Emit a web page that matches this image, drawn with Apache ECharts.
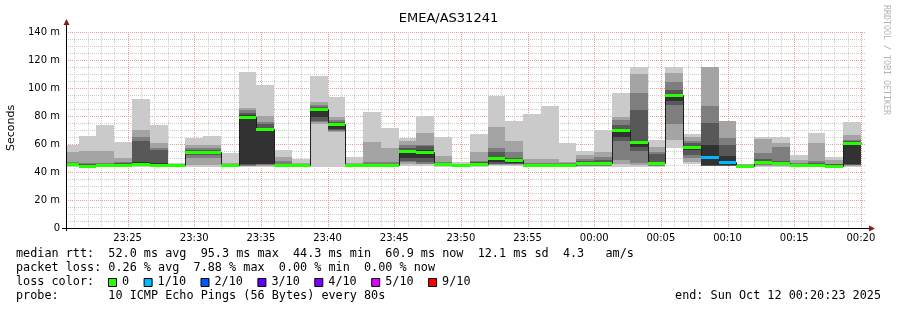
<!DOCTYPE html>
<html><head><meta charset="utf-8">
<script src="https://cdn.jsdelivr.net/npm/echarts@6/dist/echarts.min.js"></script>
<style>html,body{margin:0;padding:0;background:#fff}#c{width:897px;height:310px}</style>
</head><body><div id="c"></div>
<script>
// ---------- data ----------
const title = 'EMEA/AS31241';
const graphStart = '23:20:23';
const graphEnd = '00:20:23';
const step = 80; // seconds per probe round
const slotStart = ['23:20:00','23:21:20','23:22:40','23:24:00','23:25:20','23:26:40','23:28:00','23:29:20','23:30:40','23:32:00',
 '23:33:20','23:34:40','23:36:00','23:37:20','23:38:40','23:40:00','23:41:20','23:42:40','23:44:00','23:45:20',
 '23:46:40','23:48:00','23:49:20','23:50:40','23:52:00','23:53:20','23:54:40','23:56:00','23:57:20','23:58:40',
 '00:00:00','00:01:20','00:02:40','00:04:00','00:05:20','00:06:40','00:08:00','00:09:20','00:10:40','00:12:00',
 '00:13:20','00:14:40','00:16:00','00:17:20','00:18:40'];
// sorted ping round trip times (ms), ping1 = fastest ... ping10 = slowest
const ping1 = [43.8,43.7,43.8,43.8,43.8,43.8,43.8,43.5,43.8,43.8, 43.8,43.8,43.8,43.8,43.5,43.8,43.8,43.8,43.8,44, 44,43.8,43.8,43.8,44,44,43.8,43.8,43.8,43.8, 43.8,43.8,43.8,43.8,57.5,46,43.8,43.8,43.8,43.8, 43.8,43.8,43.8,43.6,43.8];
const ping2 = [44.2,43.9,44.2,44.2,44.3,44.2,44,45,45,44, 44.3,44.5,44.2,44,74.5,68.3,44,44,44,45.5, 45.5,44.2,44,44.3,45,45,44,44,44,44.2, 44.2,46,45,44.3,63,47.5,44.1,44.2,43.9,44.5, 44.5,44,44,43.8,44.4];
const ping3 = [44.5,44,44.4,44.4,44.6,44.4,44.2,50,50,44.2, 44.6,45,44.4,44.2,75.5,69,44.2,44.2,44.2,47, 46,44.4,44.2,44.6,45.5,45.5,44.2,44.2,44.2,44.4, 44.5,48.6,46.2,44.5,74.3,50,44.3,44.4,44,45, 44.9,44.2,44.2,43.9,44.7];
const ping4 = [44.8,44.1,44.6,44.6,45,44.6,44.4,52,52,44.4, 45,45.5,44.6,44.4,76.5,70,44.4,44.4,44.4,48, 47,44.7,44.4,45,46,46,44.4,44.4,44.4,44.7, 44.8,62,55,44.8,88,52,44.5,44.6,44.1,45.5, 45.3,44.4,44.4,44,45];
const ping5 = [45,44.3,44.8,44.8,45.5,44.9,44.6,53.5,53.5,44.6, 45.5,46,44.8,44.6,79,70.5,44.6,44.6,44.6,50, 49.8,45,44.6,45.3,47,46.5,44.6,44.6,44.6,45, 45.2,65.2,58,45,91,56,45,45,44.3,46, 45.8,44.6,44.6,44.1,45.5];
const ping6 = [46,45,45.5,45.6,47,46.5,45.1,55,55,45.2, 80.5,71.5,45.5,45.2,85.5,74.8,45.2,45.5,45.5,56, 55.5,46,45.2,46.2,51,49,45.5,45.5,45.4,47, 47.3,71,62.5,47,96,58.8,59.3,51.5,44.8,47.8, 47,45.3,45.5,45,61.5];
const ping7 = [46.5,45.8,46,46.2,62.5,56,45.3,55.5,56,45.5, 82.5,74,46,45.5,86.5,75.5,45.5,46,46,57.5, 58.3,46.5,45.5,47,54,50,46,46,45.8,47.8, 48.5,73.5,84.3,53,98.6,60.5,75,59,45,49, 48,45.8,46.5,45.5,62];
const ping8 = [47,46.5,46.5,47.4,65,57,45.5,57,57,46, 84.3,76,48,46,88,77,46,47,47,59.5, 59.5,47.5,45.8,48,57,54,46.5,46.5,46.3,49, 51,77.5,96.7,54,104.5,62,87.2,64.5,45.2,53.4, 57.6,46.5,48,46,63];
const ping9 = [54.5,55,55,50.2,70,60.7,45.8,59.5,59,46.5, 86,79.8,50.5,46.5,90.2,79,46.5,61.3,57.1,62.3, 68.1,51.5,46,54.5,72.4,62.1,49.4,49.4,47.2,52.3, 54.3,79.5,109.8,58,110.8,64.9,115,76.5,45.5,63.6, 61,48.3,60.6,48.3,66.4];
const ping10 = [59,65.7,73.6,61.2,92,73.5,46.4,64.3,65.7,53.8, 111.5,102,56,49.4,108.6,93.5,50.7,82.7,71.5,64.6, 80,64.7,47.4,67.1,94.4,76.2,81.3,87.1,60.6,55, 70,96.5,115,63,115,67,null,null,46,64.8, 64.8,52.1,67.8,50.7,75.7];
const median = [45.5,44.5,45,45,45.6,45,44.8,54.4,54.4,44.8, 79.5,70.6,45,44.8,85,74.3,44.8,44.8,44.8,55.2, 54.5,45.4,44.8,45.7,50.2,48.4,44.8,44.8,44.8,46.2, 46.6,70.2,61.5,46.1,95.2,58.1,50.7,47.2,44.5,47.2, 46.5,44.8,44.8,44.3,60.9];
const lost = [0,0,0,0,0,0,0,0,0,0, 0,0,0,0,0,0,0,0,0,0, 0,0,0,0,0,0,0,0,0,0, 0,0,0,0,0,0,1,1,0,0, 0,0,0,0,0];
const xTickLabels = ['23:25','23:30','23:35','23:40','23:45','23:50','23:55','00:00','00:05','00:10','00:15','00:20'];
const yMax = 140, yStep = 20;
const lossLabels = ['0','1/10','2/10','3/10','4/10','5/10','9/10'];
const lossColors = ['#26ff00','#00b8ff','#0059ff','#5e00ff','#7e00ff','#dd00ff','#ff0000'];
const statLine1 = 'median rtt:  52.0 ms avg  95.3 ms max  44.3 ms min  60.9 ms now  12.1 ms sd  4.3   am/s';
const statLine2 = 'packet loss: 0.26 % avg  7.88 % max  0.00 % min  0.00 % now';
const statLine3 = 'loss color:';
const statLine4 = 'probe:       10 ICMP Echo Pings (56 Bytes) every 80s';
const endText = 'end: Sun Oct 12 00:20:23 2025';

// ---------- helpers ----------
const toSec = s => { const p = s.split(':').map(Number); let t = p[0]*3600 + p[1]*60 + (p[2]||0); if (p[0] >= 12) t -= 86400; return t; };
const fmtHM = v => { let t = ((v % 86400) + 86400) % 86400; const h = Math.floor(t/3600), m = Math.floor((t%3600)/60); return String(h).padStart(2,'0') + ':' + String(m).padStart(2,'0'); };
const xMin = toSec(graphStart), xMax = toSec(graphEnd);
const pings = [ping1,ping2,ping3,ping4,ping5,ping6,ping7,ping8,ping9,ping10];
const shades = ['#cacaca','#a4a4a4','#7e7e7e','#585858','#323232'];
const lossColorOf = n => n >= 9 ? lossColors[6] : n >= 5 ? lossColors[5] : lossColors[n];

const G = {left: 66, right: 31, top: 32, bottom: 82};
const W = 897, H = 310;
const plotR = W - G.right, plotB = H - G.bottom;

const minuteLines = [];
for (let v = Math.ceil(xMin/60)*60; v <= xMax; v += 60) minuteLines.push([v]);

const slotData = slotStart.map((s, i) => [toSec(s) + step/2, median[i], i]);

function slotX(i, api) {
  const s = toSec(slotStart[i]);
  const a = Math.max(s, xMin), b = Math.min(s + step, xMax);
  return [Math.round(api.coord([a, 0])[0]), Math.round(api.coord([b, 0])[0])];
}
const yPx = (api, v) => api.coord([xMin, v])[1];

const chart = echarts.init(document.getElementById('c'), null, {renderer: 'canvas'});
const monoFont = '11.8px "DejaVu Sans Mono"';

const graphics = [
  {type:'text', x: W/2, y: 19, style:{text: title, font:'13px "DejaVu Sans"', fill:'#000', align:'center', verticalAlign:'middle'}},
  {type:'text', x: 11, y: 128, rotation: Math.PI/2, style:{text:'Seconds', font:'11px "DejaVu Sans"', fill:'#000', align:'center', verticalAlign:'middle'}},
  {type:'text', x: 886, y: 5, rotation: -Math.PI/2, style:{text:'RRDTOOL / TOBI OETIKER', font:'8.3px "DejaVu Sans Mono"', fill:'#b4b4b4', align:'left', verticalAlign:'middle'}},
  // axes
  {type:'line', z: 100, shape:{x1: G.left-4, y1: plotB+0.5, x2: plotR+4, y2: plotB+0.5}, style:{stroke:'#000', lineWidth:1}},
  {type:'line', z: 100, shape:{x1: G.left+0.5, y1: plotB+3, x2: G.left+0.5, y2: G.top-8}, style:{stroke:'#000', lineWidth:1}},
  {type:'polygon', z: 101, shape:{points:[[plotR+3, plotB-2.5],[plotR+9, plotB+0.5],[plotR+3, plotB+3.5]]}, style:{fill:'#8b1a1a'}},
  {type:'polygon', z: 101, shape:{points:[[G.left-2.5, G.top-7],[G.left+0.5, G.top-13],[G.left+3.5, G.top-7]]}, style:{fill:'#8b1a1a'}},
  // legend
  {type:'text', x: 16, y: 254, style:{text: statLine1, font: monoFont, fill:'#000', verticalAlign:'middle'}},
  {type:'text', x: 16, y: 268, style:{text: statLine2, font: monoFont, fill:'#000', verticalAlign:'middle'}},
  {type:'text', x: 16, y: 282, style:{text: statLine3, font: monoFont, fill:'#000', verticalAlign:'middle'}},
  {type:'text', x: 16, y: 296, style:{text: statLine4, font: monoFont, fill:'#000', verticalAlign:'middle'}},
  {type:'text', x: 881, y: 296, style:{text: endText, font: monoFont, fill:'#000', align:'right', verticalAlign:'middle'}}
];
let lx = 108;
lossLabels.forEach((lab, k) => {
  graphics.push({type:'rect', shape:{x: lx+0.5, y: 278.5, width: 8, height: 8}, style:{fill: lossColors[k], stroke:'#000', lineWidth:1}});
  graphics.push({type:'text', x: lx + 14, y: 282, style:{text: lab, font: monoFont, fill:'#000', verticalAlign:'middle'}});
  lx += 14 + lab.length * 7.1 + 14.5;
});

chart.setOption({
  animation: false,
  backgroundColor: '#fff',
  grid: Object.assign({containLabel: false, outerBoundsMode: 'none'}, G),
  xAxis: {
    type: 'value', min: xMin, max: xMax,
    axisLine: {show: false}, axisTick: {show: false}, splitLine: {show: false},
    axisLabel: {customValues: xTickLabels.map(toSec), formatter: v => fmtHM(v), fontFamily: 'DejaVu Sans', fontSize: 10, color: '#000', margin: 5, hideOverlap: false}
  },
  yAxis: {
    type: 'value', min: 0, max: yMax, interval: yStep,
    axisLine: {show: false}, axisTick: {show: false},
    axisLabel: {formatter: v => v === 0 ? '0' : v + ' m', fontFamily: 'DejaVu Sans', fontSize: 10, color: '#000', margin: 6},
    splitLine: {show: true, lineStyle: {color: '#f09898', width: 1, type: [1,1]}},
    minorTick: {show: false, splitNumber: 4},
    minorSplitLine: {show: true, lineStyle: {color: '#cccccc', width: 1, type: [1,1]}}
  },
  graphic: graphics,
  series: [
    { // vertical grid
      type: 'custom', silent: true, data: minuteLines, encode: {x: 0},
      renderItem: (params, api) => {
        const v = api.value(0);
        const x = Math.round(api.coord([v, 0])[0]) + 0.5;
        const major = v % 300 === 0;
        return {type:'line', shape:{x1: x, y1: yPx(api, yMax), x2: x, y2: yPx(api, 0)}, style:{stroke: major ? '#f09898' : '#cccccc', lineWidth: 1, lineDash: [1,1]}};
      }
    },
    { // smoke
      type: 'custom', silent: true, data: slotData, encode: {x: 0, y: 1},
      renderItem: (params, api) => {
        const i = api.value(2);
        const [xa, xb] = slotX(i, api);
        const children = [];
        for (let k = 0; k < 5; k++) {
          const lo = pings[k][i], hi = pings[9-k][i];
          if (lo == null || hi == null) continue;
          const ya = Math.round(yPx(api, hi)), yb = Math.round(yPx(api, lo));
          children.push({type:'rect', shape:{x: xa, y: ya, width: xb - xa, height: Math.max(1, yb - ya)}, style:{fill: shades[k]}});
        }
        return {type:'group', children};
      }
    },
    { // median step line
      type: 'custom', silent: true, data: slotData, encode: {x: 0, y: 1},
      renderItem: (params, api) => {
        const i = api.value(2);
        const [xa, xb] = slotX(i, api);
        const y = Math.round(yPx(api, median[i])) + 0.5;
        const pts = [];
        if (i > 0) { pts.push([xa + 0.5, Math.round(yPx(api, median[i-1])) + 0.5]); pts.push([xa + 0.5, y]); }
        else pts.push([xa, y]);
        pts.push([xb + 0.5, y]);
        return {type:'polyline', shape:{points: pts}, style:{stroke:'#202020', lineWidth: 1, fill: null}};
      }
    },
    { // median coloured by loss
      type: 'custom', silent: true, data: slotData, encode: {x: 0, y: 1},
      renderItem: (params, api) => {
        const i = api.value(2);
        const [xa, xb] = slotX(i, api);
        const y = Math.round(yPx(api, median[i]));
        return {type:'rect', shape:{x: xa, y: y - 1, width: xb - xa, height: 3}, style:{fill: lossColorOf(lost[i])}};
      }
    }
  ]
});
</script>
</body></html>
